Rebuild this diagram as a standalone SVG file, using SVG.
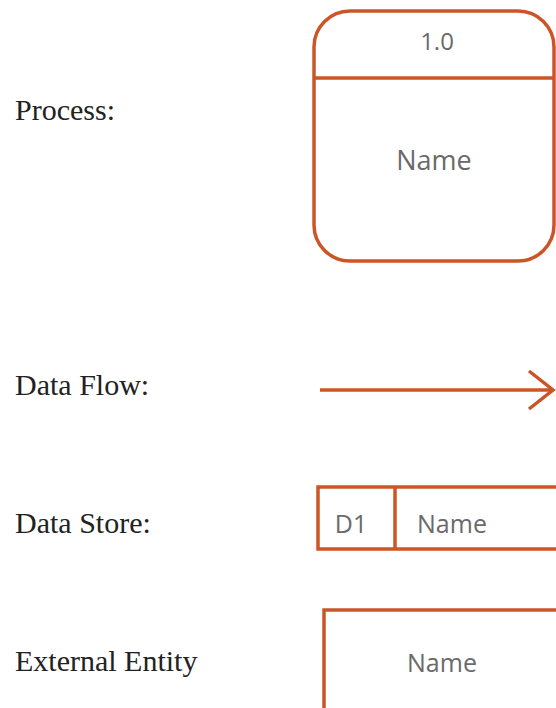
<svg xmlns="http://www.w3.org/2000/svg" width="556" height="708" viewBox="0 0 556 708">
  <style>
    .legend { font-family: "Liberation Serif", "Times New Roman", serif; font-size: 30px; fill: #222; }
    .shape { fill: #fff; stroke: #cc5528; stroke-width: 3.5; }
    .line { fill: none; stroke: #cc5528; stroke-width: 3.5; }
    .lbl { font-family: "Open Sans", "Noto Sans", sans-serif; fill: #6a6a6a; text-anchor: middle; }
  </style>
  <rect width="556" height="708" fill="#fff"/>

  <!-- legend captions -->
  <g id="captions">
    <text class="legend" x="15" y="120">Process:</text>
    <text class="legend" x="15" y="395">Data Flow:</text>
    <text class="legend" x="15" y="533">Data Store:</text>
    <text class="legend" x="15" y="671">External Entity</text>
  </g>

  <!-- process symbol -->
  <g id="process">
    <rect class="shape" x="314" y="11" width="240" height="250" rx="36" ry="36"/>
    <line class="line" x1="314" y1="78" x2="554" y2="78"/>
    <text class="lbl" x="437" y="50" font-size="24">1.0</text>
    <text class="lbl" x="434" y="170" font-size="27">Name</text>
  </g>

  <!-- data flow symbol -->
  <g id="connectors">
    <line class="line" x1="320" y1="390" x2="553" y2="390"/>
    <polyline class="line" points="529,371 553,390 529,409"/>
  </g>

  <!-- data store symbol -->
  <g id="data-store">
    <path class="line" d="M560,487 H318 V549 H560"/>
    <line class="line" x1="395" y1="487" x2="395" y2="549"/>
    <text class="lbl" x="351" y="533" font-size="25">D1</text>
    <text class="lbl" x="452" y="533" font-size="25">Name</text>
  </g>

  <!-- external entity symbol -->
  <g id="external-entity">
    <path class="line" d="M560,610 H324 V712"/>
    <text class="lbl" x="442" y="672" font-size="25">Name</text>
  </g>
</svg>
